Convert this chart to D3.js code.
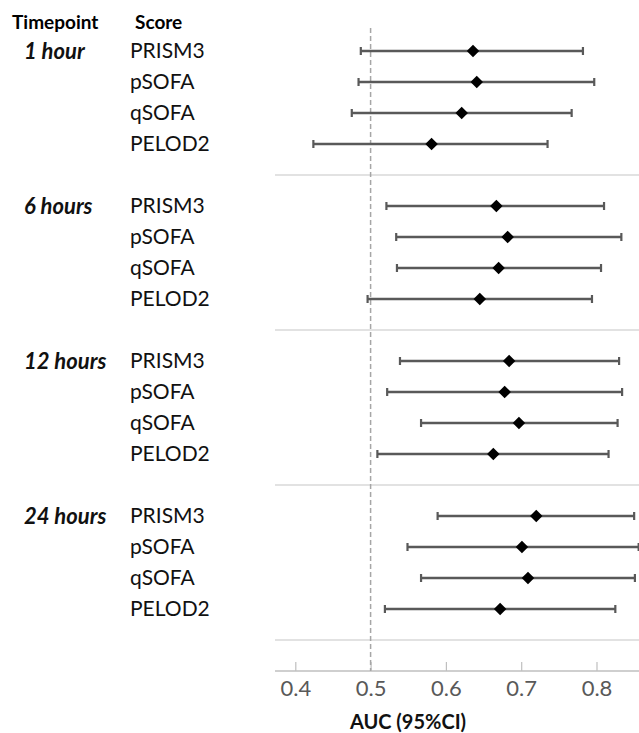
<!DOCTYPE html>
<html>
<head>
<meta charset="utf-8">
<script src="https://cdn.jsdelivr.net/npm/d3@7"></script>
<style>
  body { margin: 0; background: #fff; }
  svg { font-family: Lato, "Liberation Sans", sans-serif; }
</style>
</head>
<body>
<div class="chart"></div>
<script>
// AUC forest plot, 4 timepoints x 4 scores

var timepoints = ['1 hour', '6 hours', '12 hours', '24 hours'];
var scores = ['PRISM3', 'pSOFA', 'qSOFA', 'PELOD2'];

// one array per timepoint, in score order
var auc = [
  [0.636, 0.641, 0.621, 0.581],
  [0.667, 0.682, 0.670, 0.645],
  [0.684, 0.678, 0.697, 0.663],
  [0.720, 0.701, 0.709, 0.672]
];
var lower = [
  [0.487, 0.484, 0.475, 0.424],
  [0.521, 0.534, 0.535, 0.496],
  [0.539, 0.522, 0.567, 0.509],
  [0.589, 0.549, 0.567, 0.519]
];
var upper = [
  [0.782, 0.797, 0.767, 0.735],
  [0.810, 0.833, 0.806, 0.794],
  [0.830, 0.834, 0.828, 0.816],
  [0.850, 0.856, 0.851, 0.825]
];
var xTicks = [0.4, 0.5, 0.6, 0.7, 0.8];
var refLine = 0.5;

var width = 639, height = 733;

var rows = [];
timepoints.forEach(function(t, g) {
  scores.forEach(function(s, r) {
    rows.push({ group: g, row: r, slot: g * 5 + r, score: s,
      auc: auc[g][r], lo: lower[g][r], hi: upper[g][r] });
  });
});

var xScale = d3.scaleLinear()
  .domain([0.4, 0.8])
  .range([295.3, 596.5]);

// slot index -> y (4 rows + 1 gap per timepoint)
var yScale = d3.scaleLinear()
  .domain([0, 20])
  .range([51, 671]);

var plotLeft = xScale(0.373);

var svg = d3.select('.chart').append('svg')
  .attr('width', width)
  .attr('height', height);

// group separators
svg.selectAll('line.sep')
  .data([4, 9, 14, 19])
  .enter()
  .append('line')
    .attr('class', 'sep')
    .attr('x1', plotLeft)
    .attr('x2', width)
    .attr('y1', function(d) { return yScale(d); })
    .attr('y2', function(d) { return yScale(d); })
    .attr('stroke', '#d9d9d9')
    .attr('stroke-width', 1.5);

// x axis
var axisY = yScale(20);
var xAxis = d3.axisBottom(xScale)
  .tickValues(xTicks)
  .tickSizeInner(-9)
  .tickSizeOuter(0)
  .tickPadding(9)
  .tickFormat(d3.format('.1f'));

var ax = svg.append('g')
  .attr('transform', 'translate(0,' + axisY + ')')
  .call(xAxis);

ax.select('.domain').remove();
ax.append('line')
  .attr('x1', plotLeft)
  .attr('x2', width)
  .attr('stroke', '#bfbfbf')
  .attr('stroke-width', 1.5);
ax.selectAll('.tick line')
  .attr('stroke', '#bfbfbf')
  .attr('stroke-width', 1.2);
ax.selectAll('.tick text')
  .attr('fill', '#595959')
  .attr('font-family', 'Lato, sans-serif')
  .attr('font-size', 22);

svg.append('text')
  .attr('x', 408)
  .attr('y', 729)
  .attr('text-anchor', 'middle')
  .attr('font-weight', 'bold')
  .attr('font-size', 20)
  .attr('fill', '#111')
  .text('AUC (95%CI)');

// reference line at 0.5
svg.append('line')
  .attr('x1', xScale(refLine))
  .attr('x2', xScale(refLine))
  .attr('y1', 28)
  .attr('y2', axisY)
  .attr('stroke', '#a6a6a6')
  .attr('stroke-width', 1.5)
  .attr('stroke-dasharray', '5,3');

// CI lines
var bars = svg.selectAll('g.ci')
  .data(rows)
  .enter()
  .append('g')
    .attr('class', 'ci');

bars.append('line')
  .attr('x1', function(d) { return xScale(d.lo); })
  .attr('x2', function(d) { return xScale(d.hi); })
  .attr('y1', function(d) { return yScale(d.slot); })
  .attr('y2', function(d) { return yScale(d.slot); })
  .attr('stroke', '#595959')
  .attr('stroke-width', 2.4);

['lo', 'hi'].forEach(function(k) {
  bars.append('line')
    .attr('x1', function(d) { return xScale(d[k]); })
    .attr('x2', function(d) { return xScale(d[k]); })
    .attr('y1', function(d) { return yScale(d.slot) - 4; })
    .attr('y2', function(d) { return yScale(d.slot) + 4; })
    .attr('stroke', '#595959')
    .attr('stroke-width', 2.2);
});

bars.append('path')
  .attr('d', d3.symbol().type(d3.symbolDiamond2).size(100))
  .attr('transform', function(d) {
    return 'translate(' + xScale(d.auc) + ',' + yScale(d.slot) + ')';
  })
  .attr('fill', '#000');

// row labels
svg.selectAll('text.score')
  .data(rows)
  .enter()
  .append('text')
    .attr('class', 'score')
    .attr('x', 130)
    .attr('y', function(d) { return yScale(d.slot); })
    .attr('dy', '0.35em')
    .attr('font-size', 21)
    .attr('fill', '#111')
    .text(function(d) { return d.score; });

svg.selectAll('text.tp')
  .data(timepoints)
  .enter()
  .append('text')
    .attr('class', 'tp')
    .attr('x', 24)
    .attr('y', function(d, i) { return yScale(i * 5); })
    .attr('dy', '0.35em')
    .attr('font-size', 22)
    .attr('font-weight', 'bold')
    .attr('font-style', 'italic')
    .attr('fill', '#111')
    .text(function(d) { return d; });

// header
svg.append('text')
  .attr('x', 12).attr('y', 22).attr('dy', '0.35em')
  .attr('font-size', 19).attr('font-weight', 'bold')
  .text('Timepoint');
svg.append('text')
  .attr('x', 135).attr('y', 22).attr('dy', '0.35em')
  .attr('font-size', 19).attr('font-weight', 'bold')
  .text('Score');
</script>
</body>
</html>
